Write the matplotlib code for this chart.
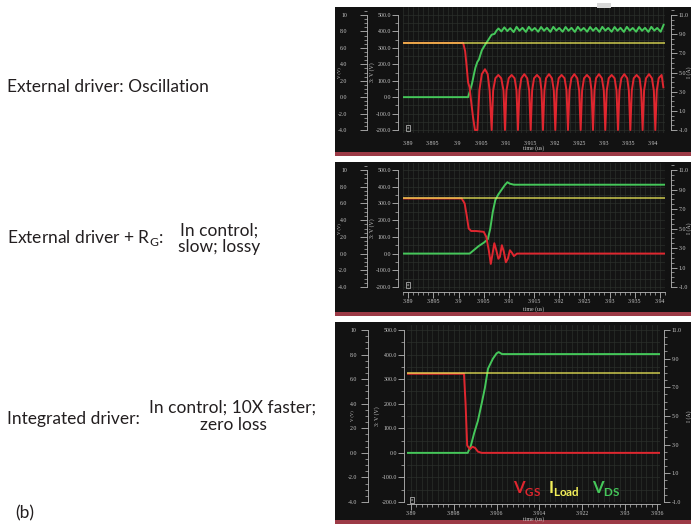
import matplotlib
matplotlib.use("Agg")
import matplotlib.pyplot as plt
from matplotlib.patches import Rectangle
from matplotlib.ticker import MultipleLocator

# ---------------------------------------------------------------- data
# Panel 1 - external driver: oscillation (time in us, values on the 3:V(V) scale)
p1_vgs_t = [3.8890, 3.9012, 3.9016, 3.9019, 3.9022, 3.9025, 3.9028, 3.9032, 3.9036, 3.9041,
            3.9045, 3.9050, 3.90565, 3.9062, 3.9066, 3.90701,
            3.90731, 3.90777, 3.90837, 3.90897, 3.90943, 3.90973,
            3.91003, 3.91049, 3.91109, 3.91169, 3.91208, 3.91238,
            3.91268, 3.91307, 3.91367, 3.91427, 3.91467, 3.91497,
            3.91527, 3.91566, 3.91626, 3.91686, 3.91718, 3.91748,
            3.91778, 3.91811, 3.91871, 3.91931, 3.91970, 3.92000,
            3.92030, 3.92069, 3.92129, 3.92189, 3.92229, 3.92259,
            3.92289, 3.92328, 3.92388, 3.92448, 3.92487, 3.92517,
            3.92547, 3.92586, 3.92646, 3.92706, 3.92739, 3.92769,
            3.92799, 3.92831, 3.92891, 3.92951, 3.92990, 3.93020,
            3.93050, 3.93090, 3.93150, 3.93210, 3.93249, 3.93279,
            3.93309, 3.93348, 3.93408, 3.93468, 3.93501, 3.93531,
            3.93561, 3.93600, 3.93660, 3.93720, 3.93752, 3.93782,
            3.93812, 3.93852, 3.93912, 3.93972, 3.94011, 3.94041,
            3.94071, 3.94110, 3.94170, 3.94205]
p1_vgs_v = [330, 330, 280, 190, 90, 60, -20, -120, -200, -200,
            40, 140, 170, 140, 40, -200,
            40, 115, 135, 115, 40, -200,
            40, 115, 135, 115, 40, -200,
            40, 115, 140, 115, 40, -200,
            40, 115, 135, 115, 40, -200,
            40, 115, 140, 115, 40, -200,
            40, 115, 135, 115, 40, -200,
            40, 115, 140, 115, 40, -200,
            40, 115, 135, 115, 40, -200,
            40, 115, 140, 115, 40, -200,
            40, 115, 135, 115, 40, -200,
            40, 115, 140, 115, 40, -200,
            40, 115, 135, 115, 40, -200,
            40, 115, 140, 115, 40, -200,
            40, 115, 135, 60]
p1_vds_t = [3.8890, 3.9022, 3.9026, 3.9030, 3.9034, 3.9037, 3.9041, 3.9044, 3.9050, 3.9057,
            3.9063, 3.9070, 3.9076, 3.9080, 3.9084,
            3.9090, 3.9096, 3.9102, 3.9108, 3.9115, 3.9121, 3.9127, 3.9133, 3.9140,
            3.9146, 3.9152, 3.9158, 3.9165, 3.9171, 3.9177, 3.9183, 3.9190, 3.9196,
            3.9202, 3.9208, 3.9215, 3.9221, 3.9227, 3.9233, 3.9240, 3.9246, 3.9252,
            3.9258, 3.9265, 3.9271, 3.9277, 3.9283, 3.9290, 3.9296, 3.9302, 3.9308,
            3.9315, 3.9321, 3.9327, 3.9333, 3.9340, 3.9346, 3.9352, 3.9358, 3.9365,
            3.9371, 3.9377, 3.9383, 3.9390, 3.9396, 3.9402, 3.9408, 3.9415, 3.9421]
p1_vds_v = [0, 0, 40, 82, 140, 180, 215, 228, 285, 320,
            347, 380, 385, 405, 418,
            400, 425, 402, 420, 396, 428, 404, 422, 397,
            428, 405, 421, 398, 427, 404, 422, 397, 428,
            405, 421, 398, 427, 404, 422, 397, 428, 405,
            421, 398, 427, 404, 422, 397, 428, 405, 421,
            398, 427, 404, 422, 397, 428, 405, 421, 398,
            427, 404, 422, 397, 428, 405, 421, 398, 440]
p1_iload_t = [3.8890, 3.9425]
p1_iload_v = [330, 330]

# Panel 2 - external driver + RG
p2_vgs_t = [3.8890, 3.9006, 3.9012, 3.9016, 3.9020, 3.9025, 3.9035, 3.9050, 3.9055, 3.9060,
            3.9064, 3.9067, 3.9071, 3.9075, 3.9079, 3.9082, 3.9086, 3.9090, 3.9094,
            3.9098, 3.9102, 3.9106, 3.9110, 3.9116, 3.9132, 3.9420]
p2_vgs_v = [330, 330, 300, 230, 150, 135, 135, 130, 100, 20,
            -62, -10, 62, 20, -31, -20, 50, 10, -52, -30, 20, 5, -15, 0, 0, 0]
p2_vds_t = [3.8890, 3.9022, 3.9030, 3.9040, 3.9050, 3.9058, 3.9063, 3.9068, 3.9073, 3.9079,
            3.9085, 3.9092, 3.9097, 3.9102, 3.9110, 3.9420]
p2_vds_v = [0, 0, 20, 45, 65, 85, 150, 250, 320, 354,
            380, 410, 427, 418, 412, 412]
p2_iload_t = [3.8890, 3.9420]
p2_iload_v = [335, 335]

# Panel 3 - integrated driver
p3_vgs_t = [3.8892, 3.8999, 3.9002, 3.9005, 3.9010, 3.9015, 3.9020, 3.9025, 3.9032, 3.9366]
p3_vgs_v = [322, 322, 200, 30, 15, 25, 20, 5, 0, 0]
p3_vds_t = [3.8892, 3.9006, 3.9012, 3.9018, 3.9025, 3.9032, 3.9038, 3.9044, 3.9053, 3.9060,
            3.9064, 3.9070, 3.9366]
p3_vds_v = [0, 0, 30, 80, 130, 200, 263, 343, 383, 405, 410, 402, 402]
p3_iload_t = [3.8892, 3.9366]
p3_iload_v = [325, 325]

# tick labels
p12_xticks = [3.89, 3.895, 3.90, 3.905, 3.91, 3.915, 3.92, 3.925, 3.93, 3.935, 3.94]
p12_xlabels = ["3.89", "3.895", "3.9", "3.905", "3.91", "3.915", "3.92", "3.925", "3.93", "3.935", "3.94"]
p3_xticks = [3.89, 3.898, 3.906, 3.914, 3.922, 3.93, 3.936]
p3_xlabels = ["3.89", "3.898", "3.906", "3.914", "3.922", "3.93", "3.936"]
v_ticks = [-4, -2, 0, 2, 4, 6, 8, 10]
v_labels = ["-4.0", "-2.0", "0.0", "2.0", "4.0", "6.0", "8.0", "10"]
sv_ticks = [-200, -100, 0, 100, 200, 300, 400, 500]
sv_labels = ["-200.0", "-100.0", "0.0", "100.0", "200.0", "300.0", "400.0", "500.0"]
i_ticks = [-1, 1, 3, 5, 7, 9, 11]
i_labels = ["-1.0", "1.0", "3.0", "5.0", "7.0", "9.0", "11.0"]

legend_names = ["V", "I", "V"]
legend_subs = ["GS", "Load", "DS"]

# ---------------------------------------------------------------- style
W, H = 691.0, 524.0
BOX = "#121212"
PLOT_BG = "#141414"
GRID = "#2d312d"
SPINE = "#b8b8b8"
TXT = "#c8c8c8"
STRIP = "#9c3a46"
RED = "#e0262f"
GREEN = "#45c75a"
YELLOW = "#f4f05a"
DARK = "#231f20"
TFS = 4.2

plt.rcParams["mathtext.fontset"] = "custom"
plt.rcParams["mathtext.rm"] = "Lato"
plt.rcParams["mathtext.bf"] = "Lato:bold"
TICKFONT = "Liberation Serif"

fig = plt.figure(figsize=(W / 100, H / 100), dpi=100)
fig.patch.set_facecolor("white")


def fig_rect(l, t, r, b):
    return [l / W, 1 - b / H, (r - l) / W, (b - t) / H]


def ftext(x, y, s, **kw):
    return fig.text(x / W, 1 - y / H, s, **kw)


panels = [
    dict(box=(335, 7, 691, 152), strip=(335, 152, 691, 156), plot=(403, 7, 665, 133),
         y500=15, ym200=130, xref=(3.89, 408.3), pxper=4.9, outer=367, mid=398, right=671,
         ruler=False, tlabel_y=148, vlab_x=339, svlab_x=372, xt=p12_xticks, xl=p12_xlabels,
         xpad=5.5, outer_pad=9,
         vgs=(p1_vgs_t, p1_vgs_v), vds=(p1_vds_t, p1_vds_v), il=(p1_iload_t, p1_iload_v)),
    dict(box=(335, 162, 691, 312), strip=(335, 312, 691, 316), plot=(403, 163, 665, 290),
         y500=170, ym200=287, xref=(3.89, 408.3), pxper=5.03, outer=367, mid=398, right=671,
         ruler=True, tlabel_y=309, vlab_x=339, svlab_x=372, xt=p12_xticks, xl=p12_xlabels,
         xpad=1, outer_pad=9,
         vgs=(p2_vgs_t, p2_vgs_v), vds=(p2_vds_t, p2_vds_v), il=(p2_iload_t, p2_iload_v)),
    dict(box=(335, 322, 691, 520), strip=(335, 520, 691, 524), plot=(407, 325, 660, 502),
         y500=330, ym200=502, xref=(3.89, 411.0), pxper=5.35, outer=368, mid=404, right=664,
         ruler=True, tlabel_y=519, vlab_x=352, svlab_x=377, xt=p3_xticks, xl=p3_xlabels,
         xpad=1, outer_pad=3,
         vgs=(p3_vgs_t, p3_vgs_v), vds=(p3_vds_t, p3_vds_v), il=(p3_iload_t, p3_iload_v)),
]

for cfg in panels:
    l, t, r, b = cfg["box"]
    fig.add_artist(Rectangle((l / W, 1 - b / H), (r - l) / W, (b - t) / H,
                             transform=fig.transFigure, facecolor=BOX, edgecolor="none", zorder=0))
    l, t, r, b = cfg["strip"]
    fig.add_artist(Rectangle((l / W, 1 - b / H), (r - l) / W, (b - t) / H,
                             transform=fig.transFigure, facecolor=STRIP, edgecolor="none", zorder=0))

    pl, pt, pr, pb = cfg["plot"]
    ax = fig.add_axes(fig_rect(pl, pt, pr, pb))
    ax.set_facecolor(PLOT_BG)
    x0, xpx = cfg["xref"]
    k = cfg["pxper"] * 1000.0
    ax.set_xlim(x0 - (xpx - pl) / k, x0 + (pr - xpx) / k)
    uy = 700.0 / (cfg["ym200"] - cfg["y500"])
    ylo = -200 - (pb - cfg["ym200"]) * uy
    yhi = 500 + (cfg["y500"] - pt) * uy
    ax.set_ylim(ylo, yhi)

    # curves
    ax.plot(*cfg["vds"], color=GREEN, lw=1.4, solid_joinstyle="round", zorder=3)
    ax.plot(*cfg["vgs"], color=RED, lw=1.4, solid_joinstyle="round", zorder=4)
    ax.plot(*cfg["il"], color=YELLOW, lw=1.2, alpha=0.75, zorder=5)

    # main (3:V) axis
    for s in ("top", "right"):
        ax.spines[s].set_visible(False)
    ax.spines["left"].set_position(("outward", (pl - cfg["mid"]) * 0.72))
    ax.spines["left"].set_bounds(-200, 500)
    ax.spines["left"].set_color(SPINE)
    ax.spines["left"].set_linewidth(0.6)
    ax.set_yticks(sv_ticks, labels=sv_labels)
    ax.yaxis.set_minor_locator(MultipleLocator(50))
    ax.tick_params(axis="y", which="major", direction="out", length=4, width=0.6,
                   color=SPINE, labelsize=TFS, labelcolor=TXT, pad=1)
    ax.tick_params(axis="y", which="minor", direction="out", length=2, width=0.5, color=SPINE)

    ax.set_xticks(cfg["xt"], labels=cfg["xl"])
    ax.xaxis.set_minor_locator(MultipleLocator(0.001))
    if cfg["ruler"]:
        ax.spines["bottom"].set_position(("outward", 1.5))
        ax.spines["bottom"].set_color(SPINE)
        ax.spines["bottom"].set_linewidth(0.6)
        ax.tick_params(axis="x", which="major", direction="out", length=4, width=0.6,
                       color=SPINE, labelsize=TFS, labelcolor=TXT, pad=cfg["xpad"])
        ax.tick_params(axis="x", which="minor", direction="out", length=2.5, width=0.5, color=SPINE)
    else:
        ax.spines["bottom"].set_visible(False)
        ax.tick_params(axis="x", which="both", length=0, labelsize=TFS, labelcolor=TXT,
                       pad=cfg["xpad"])
    for lab in ax.get_xticklabels() + ax.get_yticklabels():
        lab.set_fontfamily(TICKFONT)
    ax.grid(True, which="both", color=GRID, lw=0.45)
    ax.set_axisbelow(True)

    # outer V axis
    ov = ax.twinx()
    ov.set_ylim(ylo / 50.0, yhi / 50.0)
    for s in ("top", "right", "bottom"):
        ov.spines[s].set_visible(False)
    ov.spines["left"].set_visible(True)
    ov.yaxis.tick_left()
    ov.spines["left"].set_position(("outward", (pl - cfg["outer"]) * 0.72))
    ov.spines["left"].set_bounds(-4, 10)
    ov.spines["left"].set_color(SPINE)
    ov.spines["left"].set_linewidth(0.6)
    ov.set_yticks(v_ticks, labels=v_labels)
    ov.yaxis.set_minor_locator(MultipleLocator(0.5))
    ov.tick_params(axis="y", which="major", direction="out", length=5, width=0.6,
                   color=SPINE, labelsize=TFS, labelcolor=TXT, pad=cfg["outer_pad"])
    ov.tick_params(axis="y", which="minor", direction="out", length=2, width=0.5, color=SPINE)
    for lab in ov.get_yticklabels():
        lab.set_fontfamily(TICKFONT)

    # right I axis
    ri = ax.twinx()
    ri.set_ylim(-1 + (ylo + 200) * 12 / 700.0, -1 + (yhi + 200) * 12 / 700.0)
    for s in ("top", "left", "bottom"):
        ri.spines[s].set_visible(False)
    ri.spines["right"].set_position(("outward", (cfg["right"] - pr) * 0.72))
    ri.spines["right"].set_bounds(-1, 11)
    ri.spines["right"].set_color(SPINE)
    ri.spines["right"].set_linewidth(0.6)
    ri.set_yticks(i_ticks, labels=i_labels)
    ri.yaxis.set_minor_locator(MultipleLocator(0.5))
    ri.tick_params(axis="y", which="major", direction="out", length=4, width=0.6,
                   color=SPINE, labelsize=TFS, labelcolor=TXT, pad=1.5)
    ri.tick_params(axis="y", which="minor", direction="out", length=2, width=0.5, color=SPINE)
    for lab in ri.get_yticklabels():
        lab.set_fontfamily(TICKFONT)

    # axis titles
    ylab = cfg["y500"] + (500 - 150) / uy
    ftext(cfg["vlab_x"], ylab, "V (V)", rotation=90, ha="center", va="center",
          fontsize=3.3, color=TXT, family=TICKFONT)
    ftext(cfg["svlab_x"], ylab, "3: V (V)", rotation=90, ha="center", va="center",
          fontsize=TFS, color=TXT, family=TICKFONT)
    ftext(689, ylab, "I (A)", rotation=90, ha="center", va="center",
          fontsize=TFS, color=TXT, family=TICKFONT)
    ftext((pl + pr) / 2, cfg["tlabel_y"], "time (us)", ha="center", va="center",
          fontsize=TFS, color=TXT, family=TICKFONT)
    # small cursor box
    ftext(pl + 5, cfg["ym200"] - 2, "x", ha="center", va="center", fontsize=3, color=TXT,
          bbox=dict(boxstyle="square,pad=0.25", facecolor="none", edgecolor=TXT, lw=0.5))

# tab at the top of first panel
fig.add_artist(Rectangle((597 / W, 1 - 8 / H), 14 / W, 5 / H, transform=fig.transFigure,
                         facecolor="#d8d8d8", edgecolor="none", zorder=1))

# legend of the third panel
leg_x = [513, 548, 592]
leg_c = [RED, YELLOW, GREEN]
for x, n, s, c in zip(leg_x, legend_names, legend_subs, leg_c):
    ftext(x, 493, r"$\mathbf{%s}_{\mathbf{%s}}$" % (n, s), ha="left", va="baseline",
          fontsize=12, color=c)

# left-hand captions
LFONT = "Lato"
FS = 12.5
ftext(7, 87, "External driver: Oscillation", ha="left", va="center", fontsize=FS,
      color=DARK, family=LFONT)
ftext(7, 238, r"External driver + R$_{\mathrm{G}}$:", ha="left", va="center", fontsize=FS,
      color=DARK, family=LFONT)
ftext(219, 239, "In control;\nslow; lossy", ha="center", va="center", fontsize=FS,
      color=DARK, family=LFONT, multialignment="center", linespacing=1.05)
ftext(7, 419, "Integrated driver:", ha="left", va="center", fontsize=FS,
      color=DARK, family=LFONT)
ftext(233, 416, "In control; 10X faster;\nzero loss", ha="center", va="center", fontsize=FS,
      color=DARK, family=LFONT, multialignment="center", linespacing=1.1)
ftext(15, 513, "(b)", ha="left", va="center", fontsize=FS, color=DARK, family=LFONT)

fig.savefig("out.png", dpi=100, facecolor="white")
